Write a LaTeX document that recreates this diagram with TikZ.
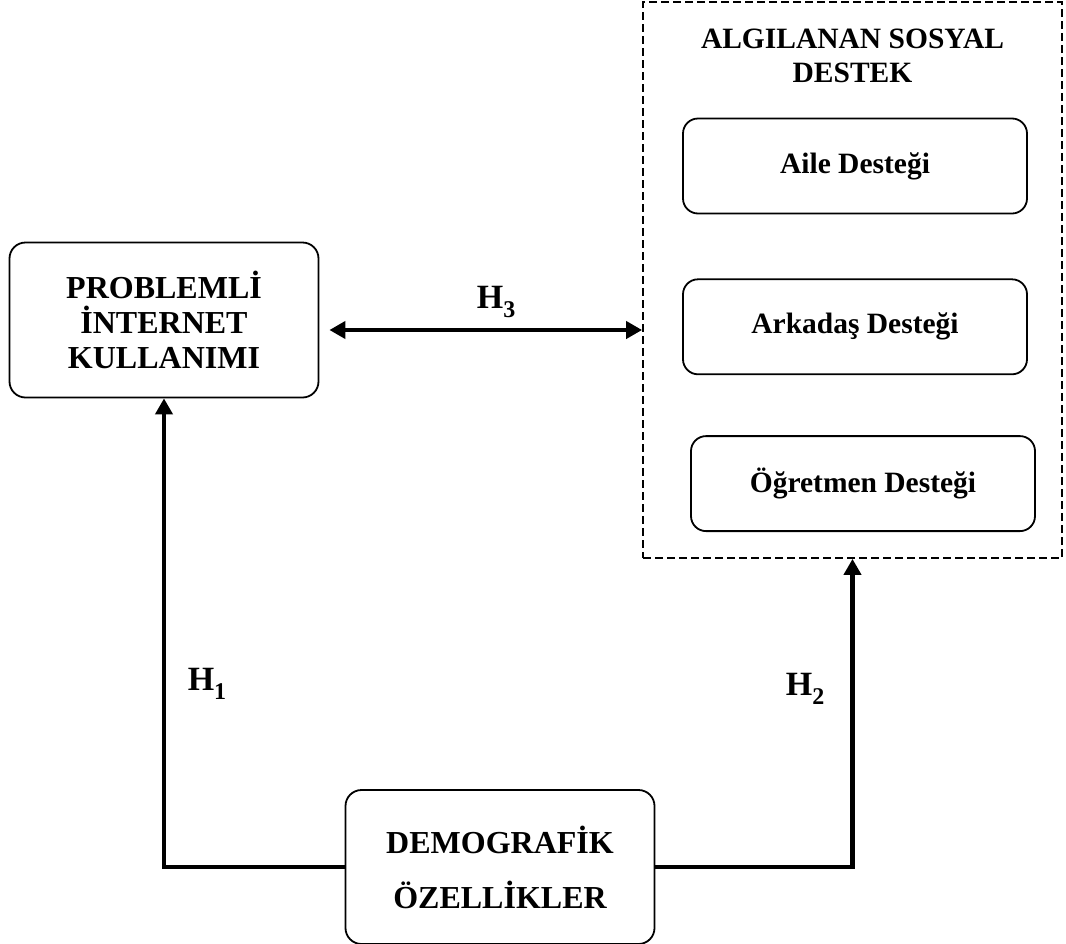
\documentclass[tikz,border=0pt]{standalone}
\usepackage{fontspec}
\setmainfont{Liberation Serif}
\usetikzlibrary{arrows.meta, positioning}
\newcommand{\hyp}[1]{H\raisebox{-9pt}{\fontsize{24}{24}\selectfont #1}}

\begin{document}
\begin{tikzpicture}[x=1pt, y=-1pt, ultra thick]

    % Define styles for the boxes, labels and links
    \tikzstyle{mainbox} = [draw, rounded corners=16pt, line width=1.8pt, align=center, minimum width=309pt, font=\fontsize{32}{35}\selectfont\bfseries]
    \tikzstyle{subbox} = [draw, rounded corners=15pt, line width=1.8pt, minimum width=344pt, minimum height=95pt, font=\fontsize{29.5}{34}\selectfont\bfseries]
    \tikzstyle{groupbox} = [draw, dash pattern=on 8pt off 4pt, line width=1.8pt, minimum width=419pt, minimum height=556pt]
    \tikzstyle{hypo} = [anchor=base west, inner sep=0pt, font=\fontsize{34}{40}\selectfont\bfseries]
    \tikzstyle{link} = [line width=4.5pt, -{Triangle[length=16pt, width=17pt]}]
    \tikzstyle{both} = [line width=4.5pt, {Triangle[length=16pt, width=17pt]}-{Triangle[length=16pt, width=17pt]}]

    \useasboundingbox (0,0) rectangle (1066,943);

    \node (pik) [mainbox, minimum height=155pt] at (164,320) {PROBLEMLİ\\İNTERNET\\KULLANIMI};
    \node (destek) [groupbox] at (852.5,280) {};
    \node (baslik) [below=24pt of destek.north, align=center, font=\fontsize{29.5}{34}\selectfont\bfseries] {ALGILANAN SOSYAL\\DESTEK};
    \node (aile) [subbox] at (855,166) {Aile Desteği};
    \node (arkadas) [subbox, below=64pt of aile] {Arkadaş Desteği};
    \node (ogretmen) [subbox, below=60pt of arkadas, xshift=8pt] {Öğretmen Desteği};
    \node (demo) [mainbox, minimum height=154pt, font=\fontsize{32}{55}\selectfont\bfseries] at (500,867) {DEMOGRAFİK\\ÖZELLİKLER};

    \node (h1) [hypo] at (187,690) {\hyp{1}};
    \node (h2) [hypo] at (785,695) {\hyp{2}};
    \node (h3) [hypo] at (476,308) {\hyp{3}};

    \draw[link] (demo.west) -| (pik.south);
    \draw[link] (demo.east) -| (destek.south);
    \draw[both, shorten <=10pt] ([yshift=-10pt]pik.east) -- ([yshift=-10pt]pik.east -| destek.west);

\end{tikzpicture}
\end{document}
